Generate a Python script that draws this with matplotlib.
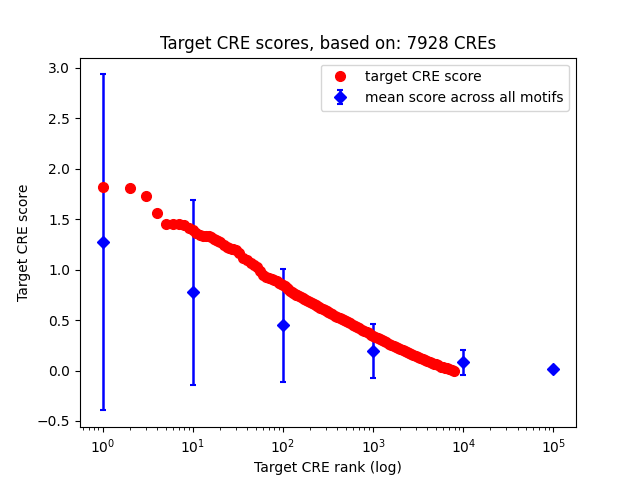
import matplotlib
matplotlib.use("Agg")
import matplotlib.pyplot as plt

# Target CRE score by rank
cre_rank = [1, 2, 3, 4, 5, 6, 7, 8, 9, 10, 11, 12, 13, 14, 15, 16, 17, 18, 19, 20,
            22, 24, 25, 27, 28, 30, 33, 36, 40, 44, 48, 52, 56, 60, 65, 70, 75, 80,
            85, 90, 95, 100, 105, 110, 115, 120, 125, 130, 135, 140, 145, 150, 157,
            165, 172, 180, 190, 200, 210, 220, 230, 240, 250, 260, 275, 290, 305,
            320, 335, 350, 375, 400, 425, 450, 475, 500, 530, 560, 595, 630, 665,
            700, 750, 800, 850, 900, 950, 1000, 1060, 1120, 1180, 1250, 1320, 1400,
            1500, 1600, 1700, 1800, 1900, 2000, 2120, 2250, 2380, 2500, 2650, 2800,
            2970, 3150, 3350, 3550, 3770, 4000, 4250, 4500, 4750, 5000, 5300, 5600,
            5950, 6300, 6650, 7000, 7450, 7928]
cre_score = [1.82, 1.81, 1.73, 1.56, 1.45, 1.45, 1.45, 1.44, 1.41, 1.39, 1.36, 1.34,
             1.33, 1.33, 1.33, 1.32, 1.30, 1.29, 1.28, 1.27, 1.24, 1.22, 1.21, 1.20,
             1.20, 1.19, 1.16, 1.12, 1.10, 1.07, 1.05, 1.03, 0.99, 0.95, 0.93, 0.92,
             0.91, 0.90, 0.885, 0.87, 0.86, 0.85, 0.835, 0.82, 0.805, 0.79, 0.78,
             0.77, 0.76, 0.75, 0.745, 0.74, 0.73, 0.72, 0.71, 0.70, 0.69, 0.68, 0.67,
             0.66, 0.65, 0.64, 0.63, 0.62, 0.61, 0.60, 0.59, 0.58, 0.57, 0.56, 0.545,
             0.53, 0.52, 0.51, 0.50, 0.49, 0.48, 0.47, 0.455, 0.44, 0.43, 0.42, 0.405,
             0.39, 0.38, 0.37, 0.355, 0.34, 0.33, 0.32, 0.31, 0.30, 0.29, 0.28, 0.265,
             0.25, 0.24, 0.23, 0.22, 0.21, 0.20, 0.19, 0.18, 0.17, 0.16, 0.15, 0.14,
             0.13, 0.12, 0.11, 0.10, 0.09, 0.08, 0.07, 0.065, 0.06, 0.05, 0.04, 0.035,
             0.03, 0.025, 0.02, 0.01, 0.00]

# Mean score across all motifs
mean_rank = [1, 10, 100, 1000, 10000, 100000]
mean_score = [1.27, 0.775, 0.447, 0.195, 0.08, 0.02]
mean_err = [1.665, 0.92, 0.56, 0.27, 0.12, 0.0]

fig, ax = plt.subplots(figsize=(6.4, 4.8), dpi=100)
h1, = ax.plot(cre_rank, cre_score, 'o', color='red', markersize=7,
              linestyle='none', zorder=3, label='target CRE score')
h2 = ax.errorbar(mean_rank, mean_score, yerr=mean_err, fmt='D', color='blue',
                 ecolor='blue', elinewidth=1.8, capsize=2.5, capthick=1.5,
                 markersize=6.5, label='mean score across all motifs', zorder=2)
ax.set_xscale('log')
ax.set_title('Target CRE scores, based on: 7928 CREs')
ax.set_xlabel('Target CRE rank (log)')
ax.set_ylabel('Target CRE score')
ax.legend(handles=[h1, h2], loc='upper right')
fig.savefig('out.png', dpi=100)
